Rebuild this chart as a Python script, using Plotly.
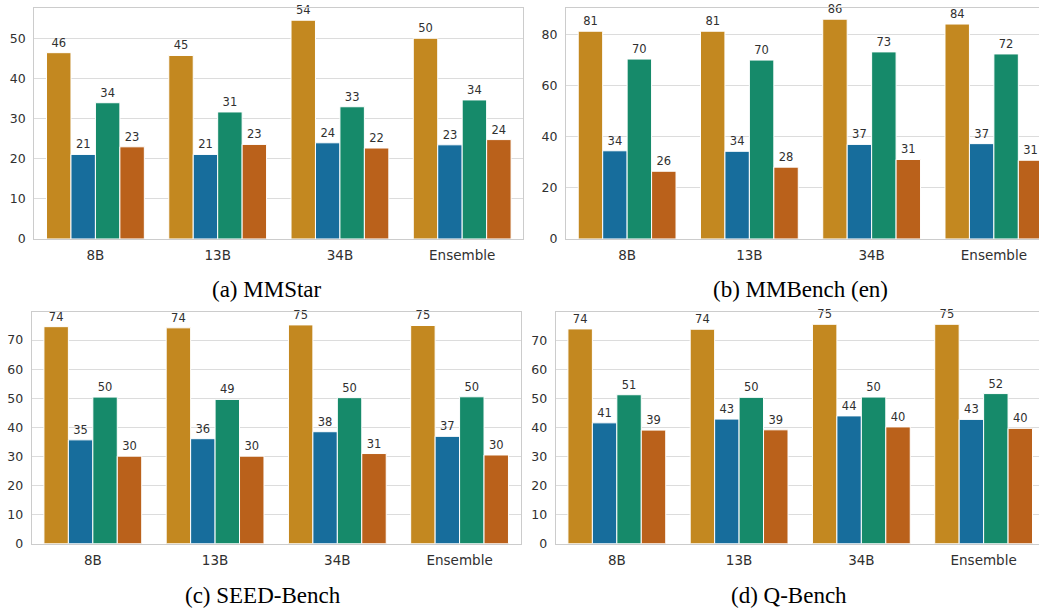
import plotly.graph_objects as go

categories = ["8B", "13B", "34B", "Ensemble"]
series_names = ["Series 1", "Series 2", "Series 3", "Series 4"]
colors = ["#c38820", "#176d9c", "#168a6a", "#ba611b"]

# MMStar
mmstar = [
    [46.5, 45.8, 54.6, 50.1],
    [21.1, 21.1, 24.0, 23.5],
    [34.0, 31.7, 33.0, 34.7],
    [23.0, 23.6, 22.7, 24.8],
]
mmstar_labels = [
    ["46", "45", "54", "50"],
    ["21", "21", "24", "23"],
    ["34", "31", "33", "34"],
    ["23", "23", "22", "24"],
]
# MMBench (en)
mmbench = [
    [81.3, 81.3, 86.0, 84.1],
    [34.5, 34.3, 37.0, 37.3],
    [70.4, 70.0, 73.2, 72.4],
    [26.5, 28.1, 31.1, 30.8],
]
mmbench_labels = [
    ["81", "81", "86", "84"],
    ["34", "34", "37", "37"],
    ["70", "70", "73", "72"],
    ["26", "28", "31", "31"],
]
# SEED-Bench
seed = [
    [74.6, 74.2, 75.2, 75.0],
    [35.7, 36.1, 38.5, 36.9],
    [50.4, 49.6, 50.2, 50.5],
    [30.1, 30.1, 31.0, 30.5],
]
seed_labels = [
    ["74", "74", "75", "75"],
    ["35", "36", "38", "37"],
    ["50", "49", "50", "50"],
    ["30", "30", "31", "30"],
]
# Q-Bench
qbench = [
    [74.1, 74.0, 75.7, 75.7],
    [41.7, 43.0, 44.1, 42.9],
    [51.4, 50.5, 50.6, 51.8],
    [39.2, 39.3, 40.3, 39.8],
]
qbench_labels = [
    ["74", "74", "75", "75"],
    ["41", "43", "44", "43"],
    ["51", "50", "50", "52"],
    ["39", "39", "40", "40"],
]

captions = ["(a) MMStar", "(b) MMBench (en)", "(c) SEED-Bench", "(d) Q-Bench"]

W, H = 1039, 616
panels = [
    # data, labels, x-domain px, y-domain px (top,bottom), x range end, y max, dtick
    (mmstar, mmstar_labels, (34.3, 523.3), (8.3, 241.7), 3.5, 57.6, 10),
    (mmbench, mmbench_labels, (566.0, 1039.0), (8.3, 241.7), 3.369, 90.3, 20),
    (seed, seed_labels, (31.7, 520.7), (316.0, 550.0), 3.5, 79.5, 10),
    (qbench, qbench_labels, (555.7, 1039.0), (316.0, 550.0), 3.453, 79.8, 10),
]
# caption centre positions (px)
caption_pos = [(267, 293), (800, 293), (263, 602), (789, 602)]

fig = go.Figure()
text_color = "#303030"
grid_color = "#dcdcdc"
font_family = "DejaVu Sans"

for i, (data, labels, xd, yd, xend, ymax, dtick) in enumerate(panels):
    ax = "" if i == 0 else str(i + 1)
    for s in range(4):
        fig.add_trace(go.Bar(
            x=categories,
            y=data[s],
            name=series_names[s],
            marker=dict(color=colors[s], line=dict(color="white", width=1)),
            text=labels[s],
            textposition="outside",
            textfont=dict(family=font_family, size=11.5, color=text_color),
            constraintext="none",
            cliponaxis=False,
            showlegend=False,
            xaxis="x" + ax,
            yaxis="y" + ax,
        ))
    fig.layout["xaxis" + ax] = dict(
        domain=[xd[0] / W, xd[1] / W],
        anchor="y" + ax,
        range=[-0.5, xend],
        showline=True,
        linecolor="#cccccc",
        linewidth=1.2,
        mirror=True,
        showgrid=False,
        ticks="",
        tickfont=dict(family=font_family, size=13.5, color=text_color),
        ticklabelstandoff=4,
        fixedrange=True,
    )
    fig.layout["yaxis" + ax] = dict(
        domain=[1 - yd[1] / H, 1 - yd[0] / H],
        anchor="x" + ax,
        range=[0, ymax],
        dtick=dtick,
        showline=True,
        linecolor="#cccccc",
        linewidth=1.2,
        mirror=(i % 2 == 0),
        showgrid=True,
        gridcolor=grid_color,
        gridwidth=1,
        zeroline=False,
        ticks="",
        tickfont=dict(family=font_family, size=12.5, color=text_color),
        ticklabelstandoff=5,
        fixedrange=True,
    )

for cap, (cx, cy) in zip(captions, caption_pos):
    fig.add_annotation(
        text=cap, x=cx / W, y=1 - cy / H, xref="paper", yref="paper",
        showarrow=False, xanchor="center", yanchor="middle",
        borderpad=0,
        font=dict(family="Liberation Serif", size=23, color="black"),
    )

fig.update_layout(
    width=W, height=H,
    margin=dict(l=0, r=0, t=0, b=0),
    paper_bgcolor="white",
    plot_bgcolor="white",
    barmode="group",
    bargap=0.2,
    bargroupgap=0,
)

fig.write_html(
    "out.html",
    config={"displayModeBar": False},
    post_script="document.body.style.margin='0px';document.body.style.overflow='hidden';",
)
